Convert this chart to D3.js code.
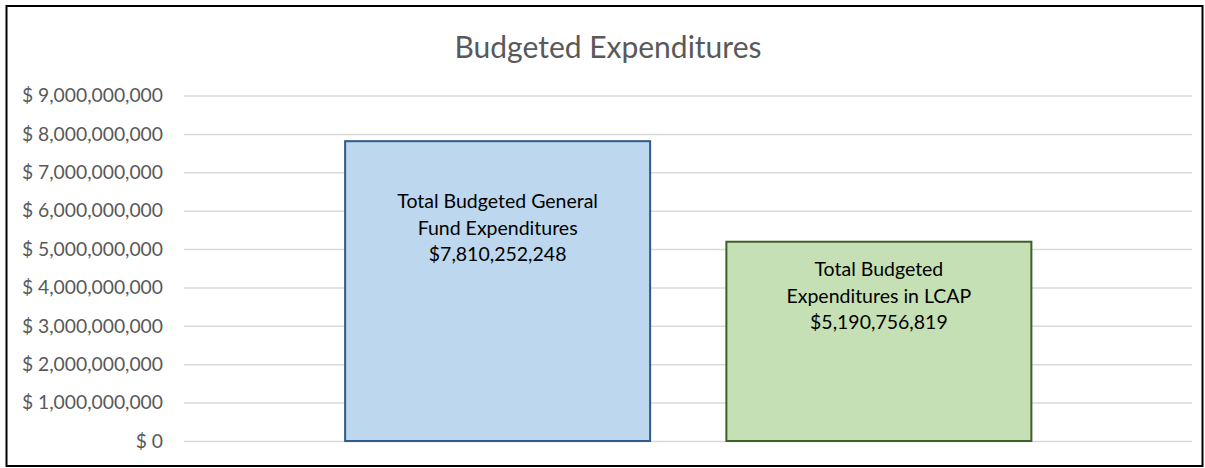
<!DOCTYPE html>
<html>
<head>
<meta charset="utf-8">
<script src="https://cdn.jsdelivr.net/npm/d3@7"></script>
<style>
  body { margin: 0; background: #fff; }
  text { font-family: Lato, "Open Sans", sans-serif; }
</style>
</head>
<body>
<div id="chart-area"></div>
<script>
const categories = ['Total Budgeted General Fund Expenditures', 'Total Budgeted Expenditures in LCAP'];
const values = [7810252248, 5190756819];
const labelLines = [
  ['Total Budgeted General', 'Fund Expenditures', '$7,810,252,248'],
  ['Total Budgeted', 'Expenditures in LCAP', '$5,190,756,819']
];
const tickValues = [0, 1e9, 2e9, 3e9, 4e9, 5e9, 6e9, 7e9, 8e9, 9e9];

const width = 1205;
const height = 468;
const fills = ['#bdd7ee', '#c5e0b4'];
const strokes = ['#2e5b87', '#3d5f28'];
const labelOffsets = [87, 54];

const svg = d3.select('#chart-area').append('svg')
  .attr('width', width)
  .attr('height', height);

svg.append('rect')
  .attr('x', 6.5).attr('y', 6)
  .attr('width', 1196).attr('height', 460)
  .attr('fill', 'white')
  .attr('stroke', '#000')
  .attr('stroke-width', 2);

const scaleX = d3.scaleBand()
  .domain(categories)
  .range([307, 1069.5])
  .paddingInner(0.2)
  .paddingOuter(0.1);

const scaleY = d3.scaleLinear()
  .domain([0, 9e9])
  .range([441, 95.5]);

const fmt = d3.format(',');

const axisY = d3.axisLeft(scaleY)
  .tickValues(tickValues)
  .tickSize(-(1192 - 184))
  .tickPadding(21)
  .tickFormat(d => `$ ${fmt(d)}`);

const gy = svg.append('g')
  .attr('transform', 'translate(184, 0)')
  .call(axisY);
gy.select('.domain').remove();
gy.selectAll('.tick line')
  .attr('x1', 0)
  .attr('x2', 1192 - 184)
  .attr('stroke', '#d9d9d9')
  .attr('stroke-width', 1.5);
gy.selectAll('.tick text')
  .attr('fill', '#595959')
  .attr('font-size', '19.3px')
  .style('font-family', 'Lato, "Open Sans", sans-serif');

svg.append('text')
  .text('Budgeted Expenditures')
  .attr('x', 608)
  .attr('y', 58)
  .attr('text-anchor', 'middle')
  .attr('font-size', '30px')
  .attr('fill', '#595959');

svg.selectAll('rect.bar')
  .data(values)
  .enter().append('rect')
    .attr('class', 'bar')
    .attr('x', (d, i) => scaleX(categories[i]))
    .attr('y', d => scaleY(d))
    .attr('width', scaleX.bandwidth())
    .attr('height', d => scaleY(0) - scaleY(d))
    .attr('fill', (d, i) => fills[i])
    .attr('stroke', (d, i) => strokes[i])
    .attr('stroke-width', 2);

labelLines.forEach((lines, i) => {
  const cx = scaleX(categories[i]) + scaleX.bandwidth() / 2;
  const cy = scaleY(values[i]) + labelOffsets[i];
  svg.append('text')
    .attr('text-anchor', 'middle')
    .attr('font-size', '19.5px')
    .attr('fill', '#000')
    .selectAll('tspan')
    .data(lines)
    .enter().append('tspan')
      .attr('x', cx)
      .attr('y', (d, j) => cy + (j - 1) * 26.5)
      .attr('dy', '0.35em')
      .text(d => d);
});
</script>
</body>
</html>
